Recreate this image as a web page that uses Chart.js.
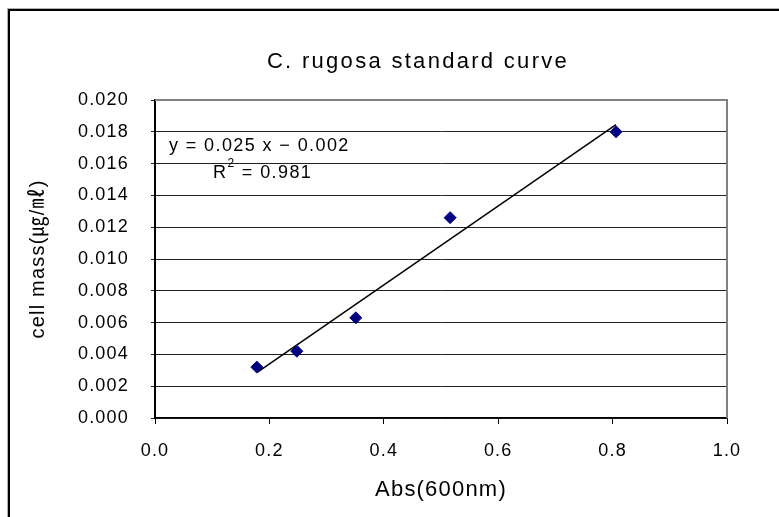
<!DOCTYPE html>
<html>
<head>
<meta charset="utf-8">
<script src="https://cdn.jsdelivr.net/npm/chart.js@4.4.0/dist/chart.umd.min.js"></script>
<style>
    html, body { margin: 0; padding: 0; background: #fff; overflow: hidden; }
    #frame { position: absolute; left: 8px; top: 9px; width: 900px; height: 600px;
             border-left: 2px solid #000; border-top: 2px solid #000; box-shadow: -1px -1px 0 #b0b0b0; }
    #wrap { position: absolute; left: 0; top: 0; width: 779px; height: 517px; }
</style>
</head>
<body>
<div id="frame"></div>
<div id="wrap"><canvas id="curveChart" width="779" height="517"></canvas></div>
<script>
// Absorbance readings and matching cell mass
var absValues = [0.178, 0.248, 0.351, 0.516, 0.806];
var cellMassValues = [0.0032, 0.0042, 0.0063, 0.0126, 0.0180];

var xTickValues = [0.0, 0.2, 0.4, 0.6, 0.8, 1.0];
var yTickValues = [0.000, 0.002, 0.004, 0.006, 0.008, 0.010, 0.012, 0.014, 0.016, 0.018, 0.020];

var chartTitle = 'C. rugosa standard curve';
var xAxisTitle = 'Abs(600nm)';
var yAxisTitle = 'cell mass(㎍/㎖)';
var equationText = 'y = 0.025 x \u2212 0.002';
var rSquaredValue = '0.981';

var fontFamily = '"Liberation Sans", Arial, "Noto Sans CJK KR", sans-serif';

//Least squares fit for the trendline.
function linearFit(xs, ys) {
    var n = xs.length, mx = 0, my = 0;
    for (let i = 0; i < n; i++) { mx += xs[i]; my += ys[i]; }
    mx = mx / n; my = my / n;
    var sxy = 0, sxx = 0;
    for (let i = 0; i < n; i++) {
        sxy += (xs[i] - mx) * (ys[i] - my);
        sxx += (xs[i] - mx) * (xs[i] - mx);
    }
    var slope = sxy / sxx;
    return { slope: slope, intercept: my - slope * mx };
}

var fit = linearFit(absValues, cellMassValues);
var minAbs = Math.min.apply(null, absValues);
var maxAbs = Math.max.apply(null, absValues);

var points = [];
absValues.forEach(function (abs, i) {
    points.push({ x: abs, y: cellMassValues[i] });
});

var trendPoints = [
    { x: minAbs, y: fit.slope * minAbs + fit.intercept },
    { x: maxAbs, y: fit.slope * maxAbs + fit.intercept }
];

var excelLook = {
    id: 'excelLook',
    beforeDraw: function (chart) {
        chart.ctx.letterSpacing = '1.2px';
    },
    beforeDatasetsDraw: function (chart) {
        var ctx = chart.ctx, a = chart.chartArea;
        ctx.save();
        ctx.strokeStyle = '#808080';
        ctx.lineWidth = 2;
        ctx.beginPath();
        ctx.moveTo(a.left, a.top);
        ctx.lineTo(a.right, a.top);
        ctx.lineTo(a.right, a.bottom);
        ctx.stroke();
        ctx.restore();
    },
    afterDraw: function (chart) {
        var ctx = chart.ctx, a = chart.chartArea;
        ctx.save();
        ctx.fillStyle = '#000';
        ctx.textBaseline = 'middle';

        //Chart title
        ctx.letterSpacing = '2.3px';
        ctx.font = '22px ' + fontFamily;
        ctx.textAlign = 'center';
        ctx.fillText(chartTitle, 418, 62);

        //Trendline equation
        ctx.letterSpacing = '1.4px';
        ctx.font = '18px ' + fontFamily;
        ctx.textAlign = 'left';
        ctx.fillText(equationText, a.left + 14, 146);

        var rx = a.left + 58;
        ctx.fillText('R', rx, 173);
        rx += ctx.measureText('R').width;
        ctx.font = '12px ' + fontFamily;
        ctx.fillText('2', rx, 164);
        rx += ctx.measureText('2').width;
        ctx.font = '18px ' + fontFamily;
        ctx.fillText(' = ' + rSquaredValue, rx, 173);
        ctx.restore();
    }
};

var curveChart = new Chart(document.getElementById('curveChart'), {
    type: 'scatter',
    data: {
        datasets: [
            {
                label: 'C. rugosa',
                data: points,
                pointStyle: 'rectRot',
                pointRadius: 6,
                pointBackgroundColor: '#000080',
                pointBorderColor: '#000080',
                pointBorderWidth: 1,
                showLine: false,
                order: 1
            },
            {
                label: 'Linear fit',
                type: 'line',
                data: trendPoints,
                borderColor: '#000',
                borderWidth: 1.5,
                pointRadius: 0,
                fill: false,
                order: 2
            }
        ]
    },
    options: {
        responsive: false,
        animation: false,
        layout: {
            padding: { top: 100, right: 52, bottom: 0, left: 0 }
        },
        scales: {
            x: {
                type: 'linear',
                min: 0,
                max: 1,
                afterBuildTicks: function (scale) {
                    scale.ticks = xTickValues.map(function (v) { return { value: v }; });
                },
                afterFit: function (scale) { scale.height = 99; },
                grid: {
                    drawOnChartArea: false,
                    drawTicks: true,
                    tickLength: 6,
                    color: '#000'
                },
                border: { color: '#000', width: 1.5 },
                ticks: {
                    padding: 16,
                    color: '#000',
                    font: { family: fontFamily, size: 18 },
                    callback: function (value) { return value.toFixed(1); }
                },
                title: {
                    display: true,
                    text: xAxisTitle,
                    color: '#000',
                    font: { family: fontFamily, size: 22 },
                    padding: { top: 0, bottom: 14 }
                }
            },
            y: {
                type: 'linear',
                min: 0,
                max: 0.02,
                afterBuildTicks: function (scale) {
                    scale.ticks = yTickValues.map(function (v) { return { value: v }; });
                },
                afterFit: function (scale) { scale.width = 155; },
                grid: {
                    color: '#222',
                    lineWidth: 1,
                    tickLength: 4
                },
                border: { color: '#000', width: 2 },
                ticks: {
                    padding: 22,
                    color: '#000',
                    font: { family: fontFamily, size: 18 },
                    callback: function (value) { return value.toFixed(3); }
                },
                title: {
                    display: true,
                    text: yAxisTitle,
                    color: '#000',
                    font: { family: fontFamily, size: 20 },
                    padding: { top: 26, bottom: 0 }
                }
            }
        },
        plugins: {
            legend: { display: false },
            tooltip: { enabled: false }
        }
    },
    plugins: [excelLook]
});
</script>
</body>
</html>
